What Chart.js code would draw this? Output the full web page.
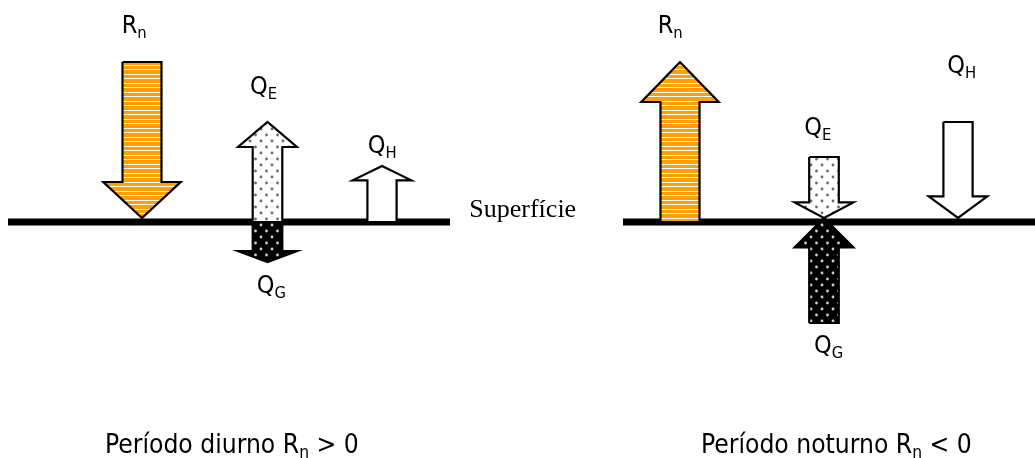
<!DOCTYPE html>
<html><head><meta charset="utf-8">
<script src="https://cdn.jsdelivr.net/npm/chart.js@4.4.1/dist/chart.umd.min.js"></script>
<style>
html,body{margin:0;padding:0;background:#fff;overflow:hidden}
#wrap{position:relative;width:1035px;height:458px}
canvas{position:absolute;left:0;top:0}
.lbl{position:absolute;white-space:nowrap;color:#000;font-family:"DejaVu Sans",sans-serif;font-stretch:condensed}
.serif{font-family:"Liberation Serif","Times New Roman",serif;font-stretch:normal}
.sub{position:relative;line-height:0}
</style></head><body>
<div id="wrap"><canvas id="c" width="1035" height="458"></canvas></div>
<script>
// ---- data: energy fluxes at the surface (heights relative to the surface, 0) ----
const fluxNames = ['Rn', 'QE', 'QH', 'QG'];
const dayTail   = [160,   0,   0,    0];
const dayTip    = [  4, 100,  56,  -40];
const nightTail = [  0,  65, 100, -101];
const nightTip  = [160,   4,   4,    4];

// ---- layout / style (not data) ----
const dayX   = [142, 267.5, 382, 267.5];
const nightX = [680, 824, 958, 824];
const shaftHalf = [19.5, 14.8, 14.6, 14.8];
const headHalf  = [38.7, 29.4, 29.3, 29.4];
const dayHead   = [36, 25, 14.3, 11];
const nightHead = [40, 15.6, 21.6, 29.3];

function mk(w, h, draw){ const c=document.createElement('canvas'); c.width=w; c.height=h; const g=c.getContext('2d'); draw(g); return g.createPattern(c,'repeat'); }
const stripePat = mk(8, 9, g=>{ g.fillStyle='#FFA000'; g.fillRect(0,0,8,9); g.fillStyle='#fff'; g.fillRect(0,2,8,1); g.fillRect(0,6,8,1); });
function dotPat(bg, fg){ return mk(11, 12, g=>{ g.fillStyle=bg; g.fillRect(0,0,11,12); g.fillStyle=fg;
  g.beginPath(); g.arc(2.5,3,1.4,0,Math.PI*2); g.fill(); g.beginPath(); g.arc(8,9,1.4,0,Math.PI*2); g.fill(); }); }
const lightPat = dotPat('#fff', '#6a6a6a');
const darkPat  = dotPat('#000', '#d0d0d0');
const fills = [stripePat, lightPat, '#fff', darkPat];

function arrow(cx, sw, hw, hl, y0, y1){
  const d = Math.sign(y1 - y0), b = y1 - d*hl;
  return [ {x:cx-sw,y:y0},{x:cx-sw,y:b},{x:cx-hw,y:b},{x:cx,y:y1},{x:cx+hw,y:b},{x:cx+sw,y:b},{x:cx+sw,y:y0},{x:cx-sw,y:y0} ];
}
const datasets = [];
fluxNames.forEach((n,i)=>{
  datasets.push({label:n+' diurno', data:arrow(dayX[i],shaftHalf[i],headHalf[i],dayHead[i],dayTail[i],dayTip[i]), backgroundColor:fills[i]});
  datasets.push({label:n+' noturno', data:arrow(nightX[i],shaftHalf[i],headHalf[i],nightHead[i],nightTail[i],nightTip[i]), backgroundColor:fills[i]});
});
datasets.forEach(ds=>Object.assign(ds,{showLine:true, fill:'shape', borderColor:'#000', borderWidth:2.2, pointRadius:0, tension:0, borderJoinStyle:'miter', order:0}));
datasets.push({label:'Superfície 1', data:[{x:8,y:0},{x:450,y:0}], showLine:true, borderColor:'#000', borderWidth:7, pointRadius:0, fill:false, order:10, borderCapStyle:'butt'});
datasets.push({label:'Superfície 2', data:[{x:623,y:0},{x:1035,y:0}], showLine:true, borderColor:'#000', borderWidth:7, pointRadius:0, fill:false, order:10, borderCapStyle:'butt'});

const chart = new Chart(document.getElementById('c'), {
  type:'scatter',
  data:{datasets},
  options:{
    responsive:false, animation:false, devicePixelRatio:1,
    layout:{padding:0},
    plugins:{legend:{display:false}, tooltip:{enabled:false}},
    scales:{ x:{type:'linear', min:0, max:1035, display:false}, y:{type:'linear', min:-236, max:222, display:false} }
  }
});

// ---- text labels (real DOM text) placed through the chart scales ----
const labels = [
  {m:'R', s:'n', r:'', x:121.7, y:188.7, size:25},
  {m:'Q', s:'E', r:'', x:250,   y:127.7, size:25},
  {m:'Q', s:'H', r:'', x:367.7, y:68.7,  size:25},
  {m:'Q', s:'G', r:'', x:256.7, y:-71,   size:25},
  {m:'R', s:'n', r:'', x:657.7, y:188.7, size:25},
  {m:'Q', s:'H', r:'', x:947.3, y:148.7, size:25},
  {m:'Q', s:'E', r:'', x:804.3, y:87,    size:25},
  {m:'Q', s:'G', r:'', x:814,   y:-131.3,size:25},
  {m:'Superfície', s:'', r:'', x:469.3, y:5.3, size:26, serif:true},
  {m:'Período diurno R', s:'n', r:' > 0', x:105, y:-230.5, size:26.2},
  {m:'Período noturno R', s:'n', r:' < 0', x:701, y:-230.5, size:26.2}
];
const mctx = document.createElement('canvas').getContext('2d');
const wrap = document.getElementById('wrap');
labels.forEach(L=>{
  const fam = L.serif ? '"Liberation Serif"' : '"DejaVu Sans"';
  mctx.font = L.size+'px '+fam;
  const mm = mctx.measureText('Hg');
  const asc = mm.fontBoundingBoxAscent, desc = mm.fontBoundingBoxDescent;
  const d = document.createElement('div');
  d.className = 'lbl' + (L.serif ? ' serif' : '');
  d.style.fontSize = L.size+'px';
  d.style.lineHeight = (asc+desc)+'px';
  d.style.left = chart.scales.x.getPixelForValue(L.x)+'px';
  d.style.top = (chart.scales.y.getPixelForValue(L.y) - asc)+'px';
  d.appendChild(document.createTextNode(L.m));
  if (L.s){ const s=document.createElement('span'); s.className='sub'; s.style.fontSize=(L.size*0.66)+'px'; s.style.top=(L.size*0.2)+'px'; s.textContent=L.s; d.appendChild(s); }
  if (L.r) d.appendChild(document.createTextNode(L.r));
  wrap.appendChild(d);
});
</script>
</body></html>
